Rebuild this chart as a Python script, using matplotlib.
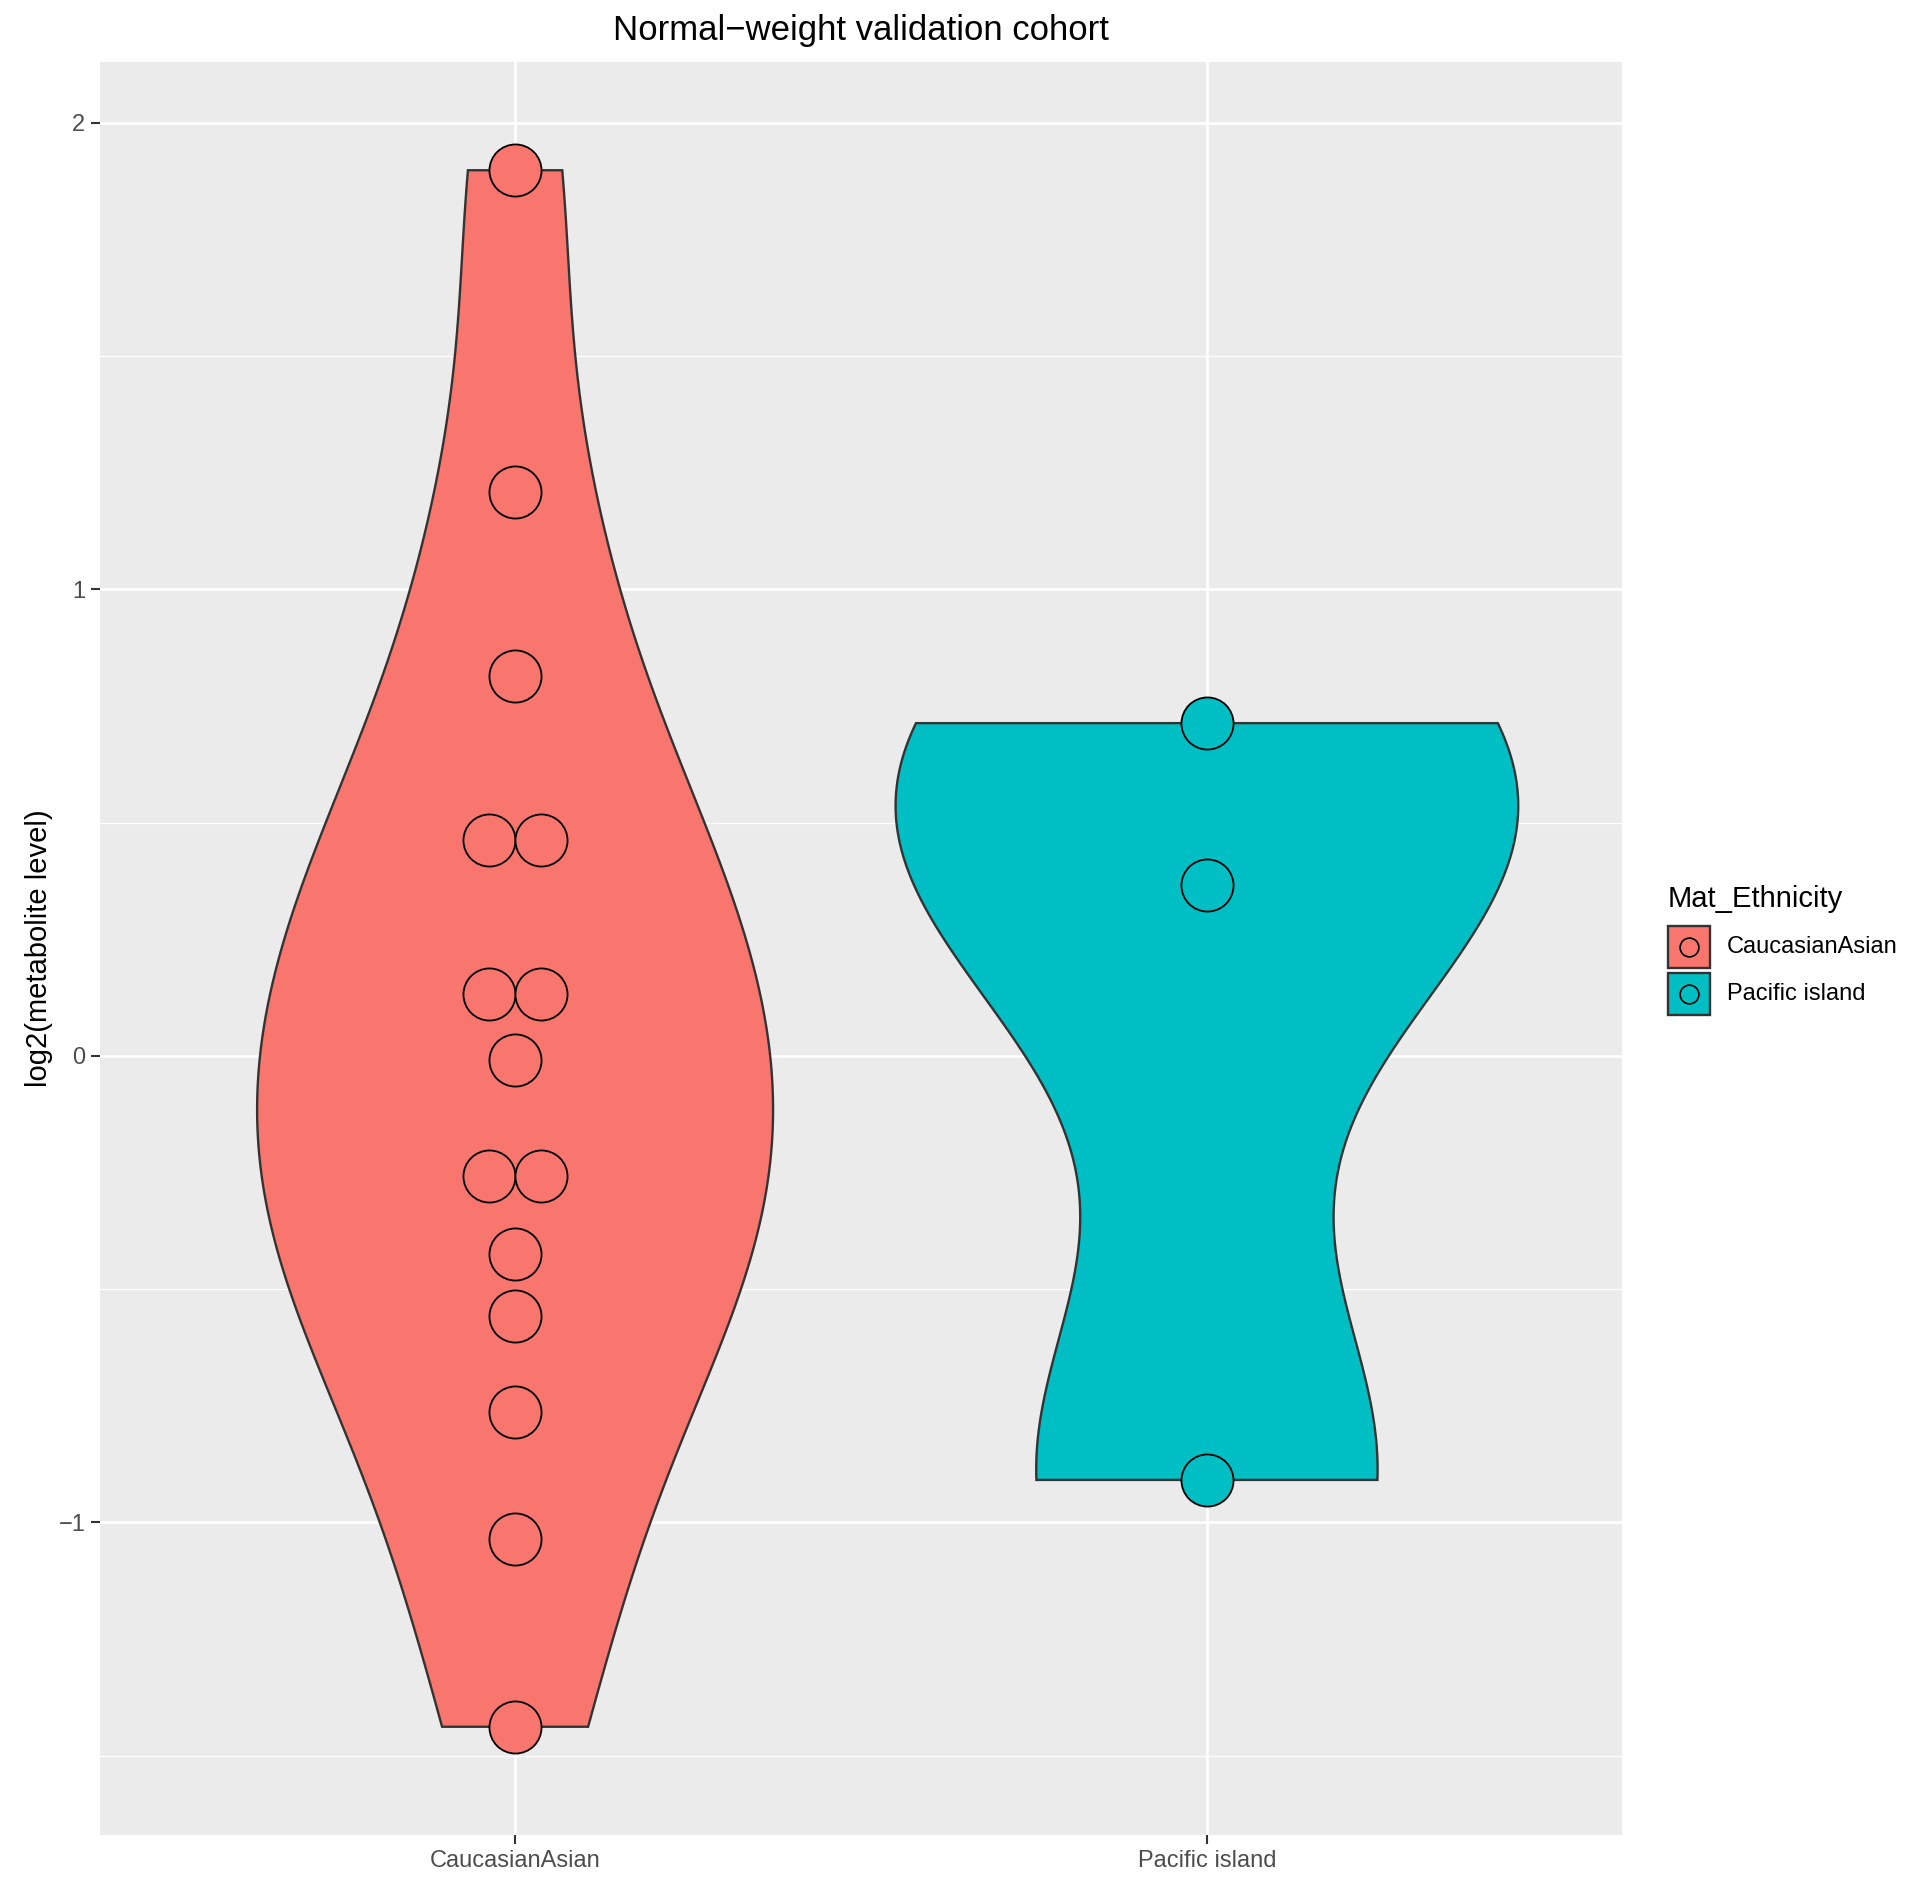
import numpy as np
import matplotlib.pyplot as plt
from matplotlib.patches import Rectangle
from matplotlib.lines import Line2D

groups = ['CaucasianAsian', 'Pacific island']
colours = ['#F8766D', '#00BFC4']
caucasian = [1.898, 1.208, 0.814, 0.462, 0.462, 0.133, 0.133, -0.008,
             -0.258, -0.258, -0.424, -0.557, -0.763, -1.036, -1.438]
pacific = [0.713, 0.367, -0.909]
values = [caucasian, pacific]
yticks = [-1, 0, 1, 2]
ytick_labels = ['\u22121', '0', '1', '2']
yminor = [-1.5, -0.5, 0.5, 1.5]

W, H = 1907, 1880
plt.rcParams['font.family'] = ['Liberation Sans', 'DejaVu Sans']


def bw_nrd0(v):
    v = np.asarray(v)
    sd = v.std(ddof=1)
    q1, q3 = np.percentile(v, [25, 75])
    return 0.9 * min(sd, (q3 - q1) / 1.34) * len(v) ** -0.2


def density(v, grid):
    v = np.asarray(v)
    bw = bw_nrd0(v)
    z = (grid[:, None] - v[None, :]) / bw
    return np.exp(-0.5 * z ** 2).sum(1) / (len(v) * bw * np.sqrt(2 * np.pi))


fig = plt.figure(figsize=(W / 100, H / 100), dpi=100)
left, right, top, bottom = 100, 1622, 62, 1835
ax = fig.add_axes([left / W, 1 - bottom / H, (right - left) / W, (bottom - top) / H])
ax.set_facecolor('#EBEBEB')
for s in ax.spines.values():
    s.set_visible(False)

# violins, scaled by area like ggplot (largest peak gets full width)
grids, dens = [], []
for v in values:
    g = np.linspace(min(v), max(v), 512)
    grids.append(g)
    dens.append(density(v, g))
peak = max(d.max() for d in dens)
for i, (g, d) in enumerate(zip(grids, dens)):
    x0 = i + 1
    hw = d / peak * 0.45
    xs = np.concatenate([x0 - hw, (x0 + hw)[::-1]])
    ys = np.concatenate([g, g[::-1]])
    ax.fill(xs, ys, facecolor=colours[i], edgecolor='#333333', lw=1.7, zorder=3)

# centred dot stacks
dot_w = 0.076
for i, v in enumerate(values):
    vals, counts = np.unique(np.round(v, 3), return_counts=True)
    for y, n in zip(vals, counts):
        xs = i + 1 + (np.arange(n) - (n - 1) / 2) * dot_w
        ax.plot(xs, [y] * n, 'o', ms=37.5, mfc=colours[i], mec='black',
                mew=1.3, zorder=4, linestyle='none')

ax.set_xlim(0.4, 2.6)
ax.set_ylim(-1.67, 2.13)
ax.set_xticks([1, 2])
ax.set_xticklabels(groups)
ax.set_yticks(yticks)
ax.set_yticklabels(ytick_labels)
ax.set_yticks(yminor, minor=True)
ax.tick_params(axis='both', which='major', colors='#333333', length=6.5, width=1.5,
               labelsize=17, labelcolor='#4D4D4D', pad=4)
ax.tick_params(axis='y', which='minor', length=0)
ax.grid(True, which='major', color='white', lw=1.9, zorder=0)
ax.grid(True, which='minor', axis='y', color='white', lw=0.9, zorder=0)
ax.set_axisbelow(True)
ax.set_ylabel('log2(metabolite level)', fontsize=21, labelpad=4)
ax.set_title('Normal\u2212weight validation cohort', fontsize=25, pad=16)

# legend
fig.text(1668 / W, 1 - 907 / H, 'Mat_Ethnicity', fontsize=21, va='baseline', ha='left')
rows = [947, 994]
for g, c, yc in zip(groups, colours, rows):
    fig.add_artist(Rectangle((1668 / W, 1 - (yc + 21) / H), 42 / W, 42 / H,
                             transform=fig.transFigure, facecolor=c,
                             edgecolor='#333333', lw=1.7))
    fig.add_artist(Line2D([1689 / W], [1 - yc / H], transform=fig.transFigure,
                          marker='o', ms=13.5, mfc=c, mec='black', mew=1.2,
                          linestyle='none'))
    fig.text(1727 / W, 1 - yc / H, g, fontsize=17, va='center', ha='left')

fig.savefig('out.png', dpi=100)
